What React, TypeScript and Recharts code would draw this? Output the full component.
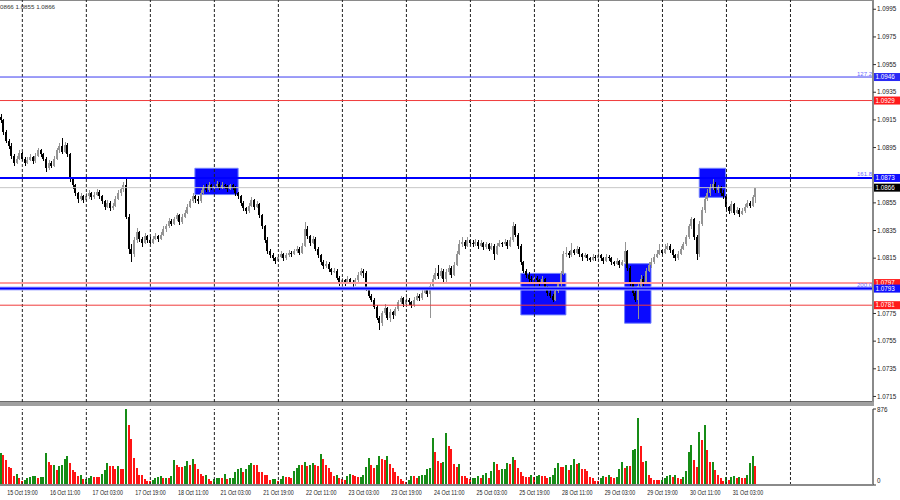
import React from 'react';
import { ComposedChart, Bar, XAxis, YAxis, ReferenceLine, ReferenceArea } from 'recharts';

// EURUSD H1, bar index 0 = 15 Oct 19:00. Prices in pips above 1.0000 (866 -> 1.0866)
const firstIndex = -3;

const opens = [
  917, 915, 906, 900, 896, 889, 884, 887, 891, 887, 884, 886,
  888, 885, 889, 893, 890, 887, 880, 884, 882, 887, 893, 896,
  892, 897, 890, 872, 868, 862, 858, 860, 857, 860, 862, 859,
  861, 863, 860, 856, 852, 855, 851, 853, 858, 862, 865, 868,
  845, 822, 818, 828, 834, 829, 826, 831, 828, 826, 829, 831,
  829, 832, 836, 838, 842, 840, 843, 846, 841, 845, 848, 852,
  856, 860, 858, 856, 862, 866, 864, 868, 866, 867, 869, 866,
  868, 867, 865, 868, 866, 862, 860, 855, 851, 849, 853, 857,
  852, 854, 846, 838, 828, 820, 817, 815, 813, 816, 818, 815,
  817, 819, 818, 820, 822, 819, 824, 836, 831, 826, 829, 822,
  817, 812, 809, 811, 807, 805, 806, 801, 797, 799, 797, 800,
  798, 796, 799, 803, 806, 804, 793, 788, 785, 780, 772, 768,
  775, 779, 772, 776, 774, 778, 783, 786, 782, 785, 783, 781,
  785, 788, 786, 790, 792, 789, 795, 800, 804, 802, 806, 800,
  805, 808, 803, 810, 818, 825, 827, 824, 828, 826, 825, 827,
  824, 826, 823, 825, 822, 824, 818, 824, 826, 825, 827, 824,
  828, 838, 832, 824, 812, 806, 803, 800, 799, 801, 799, 797,
  800, 794, 790, 788, 785, 791, 796, 804, 818, 819, 817, 821,
  819, 822, 818, 816, 817, 815, 814, 816, 815, 817, 815, 813,
  816, 815, 812, 811, 813, 810, 812, 820, 808, 797, 790, 785,
  795, 800, 797, 806, 810, 812, 816, 818, 821, 819, 822, 824,
  821, 817, 815, 818, 822, 825, 830, 838, 843, 830, 818, 840,
  850, 858, 862, 866, 869, 864, 866, 862, 860, 852, 849, 854,
  848, 850, 847, 849, 852, 855, 853, 859,
];

const highs = [
  919, 916, 908, 901, 898, 890, 889, 893, 892, 888, 888, 890,
  889, 891, 895, 894, 891, 888, 886, 885, 889, 895, 898, 902,
  899, 898, 891, 874, 869, 863, 862, 861, 862, 864, 863, 863,
  865, 864, 861, 857, 857, 856, 855, 860, 864, 866, 870, 874,
  847, 825, 830, 837, 835, 830, 833, 832, 830, 831, 833, 832,
  834, 838, 840, 844, 843, 845, 848, 847, 847, 850, 854, 858,
  862, 861, 860, 864, 868, 869, 870, 869, 869, 871, 870, 870,
  869, 868, 869, 869, 867, 863, 861, 856, 852, 855, 859, 858,
  856, 855, 847, 839, 830, 822, 819, 816, 818, 820, 819, 819,
  821, 820, 822, 824, 823, 826, 841, 838, 832, 831, 830, 823,
  818, 814, 813, 812, 808, 808, 807, 802, 801, 800, 802, 801,
  799, 801, 805, 808, 807, 806, 794, 789, 786, 781, 773, 777,
  782, 780, 778, 777, 780, 785, 788, 787, 787, 786, 784, 787,
  790, 789, 792, 794, 793, 797, 803, 808, 810, 808, 807, 807,
  810, 809, 812, 820, 828, 830, 828, 830, 829, 828, 829, 828,
  828, 827, 827, 826, 826, 825, 826, 828, 827, 829, 828, 830,
  841, 840, 833, 825, 813, 807, 805, 802, 803, 802, 800, 802,
  801, 795, 792, 789, 793, 798, 806, 820, 823, 820, 826, 822,
  824, 823, 819, 819, 818, 816, 818, 817, 820, 818, 816, 818,
  817, 816, 813, 815, 814, 814, 827, 821, 809, 798, 791, 797,
  803, 802, 808, 812, 815, 818, 821, 825, 822, 825, 826, 825,
  822, 818, 820, 824, 827, 832, 840, 845, 844, 832, 842, 852,
  860, 865, 869, 872, 870, 868, 867, 864, 861, 853, 856, 855,
  852, 851, 851, 854, 857, 856, 861, 866,
];

const lows = [
  913, 904, 898, 894, 887, 882, 883, 886, 885, 882, 883, 885,
  883, 884, 888, 888, 885, 877, 879, 880, 881, 886, 891, 890,
  891, 888, 870, 865, 860, 855, 856, 855, 856, 858, 857, 858,
  860, 858, 854, 850, 851, 849, 850, 852, 857, 860, 863, 843,
  818, 812, 816, 826, 827, 823, 825, 826, 825, 825, 828, 827,
  828, 831, 834, 837, 838, 839, 842, 839, 840, 844, 847, 851,
  855, 855, 854, 855, 861, 863, 863, 864, 865, 866, 864, 865,
  865, 863, 864, 864, 860, 858, 853, 849, 847, 848, 852, 850,
  851, 844, 836, 826, 818, 815, 813, 811, 812, 815, 813, 814,
  816, 816, 817, 819, 817, 818, 823, 829, 824, 825, 820, 815,
  810, 807, 808, 805, 803, 804, 799, 795, 796, 795, 796, 796,
  794, 795, 798, 802, 801, 791, 786, 783, 778, 770, 763, 766,
  774, 770, 769, 771, 773, 777, 782, 780, 781, 781, 779, 780,
  784, 784, 785, 789, 787, 772, 793, 799, 800, 801, 798, 798,
  803, 801, 802, 809, 817, 823, 822, 823, 824, 823, 824, 822,
  823, 821, 822, 820, 821, 814, 817, 823, 823, 824, 822, 823,
  827, 830, 822, 810, 804, 801, 798, 797, 798, 797, 795, 796,
  792, 788, 786, 783, 784, 790, 795, 803, 816, 815, 816, 817,
  818, 816, 813, 815, 813, 812, 813, 813, 814, 813, 811, 812,
  813, 810, 809, 810, 808, 809, 811, 806, 795, 788, 783, 771,
  793, 795, 796, 805, 808, 811, 815, 817, 817, 818, 821, 819,
  815, 813, 814, 817, 821, 824, 829, 836, 828, 814, 816, 838,
  848, 856, 860, 864, 862, 862, 860, 858, 850, 847, 848, 846,
  847, 845, 846, 848, 851, 851, 852, 855,
];

const closes = [
  915, 906, 900, 896, 889, 884, 887, 891, 887, 884, 886, 888,
  885, 889, 893, 890, 887, 880, 884, 882, 887, 893, 896, 892,
  897, 890, 872, 868, 862, 858, 860, 857, 860, 862, 859, 861,
  863, 860, 856, 852, 855, 851, 853, 858, 862, 865, 868, 845,
  822, 818, 828, 834, 829, 826, 831, 828, 826, 829, 831, 829,
  832, 836, 838, 842, 840, 843, 846, 841, 845, 848, 852, 856,
  860, 858, 856, 862, 866, 864, 868, 866, 867, 869, 866, 868,
  867, 865, 868, 866, 862, 860, 855, 851, 849, 853, 857, 852,
  854, 846, 838, 828, 820, 817, 815, 813, 816, 818, 815, 817,
  819, 818, 820, 822, 819, 824, 836, 831, 826, 829, 822, 817,
  812, 809, 811, 807, 805, 806, 801, 797, 799, 797, 800, 798,
  796, 799, 803, 806, 804, 793, 788, 785, 780, 772, 768, 775,
  779, 772, 776, 774, 778, 783, 786, 782, 785, 783, 781, 785,
  788, 786, 790, 792, 789, 795, 800, 804, 802, 806, 800, 805,
  808, 803, 810, 818, 825, 827, 824, 828, 826, 825, 827, 824,
  826, 823, 825, 822, 824, 818, 824, 826, 825, 827, 824, 828,
  838, 832, 824, 812, 806, 803, 800, 799, 801, 799, 797, 800,
  794, 790, 788, 785, 791, 796, 804, 818, 819, 817, 821, 819,
  822, 818, 816, 817, 815, 814, 816, 815, 817, 815, 813, 816,
  815, 812, 811, 813, 810, 812, 820, 808, 797, 790, 785, 795,
  800, 797, 806, 810, 812, 816, 818, 821, 819, 822, 824, 821,
  817, 815, 818, 822, 825, 830, 838, 843, 830, 818, 840, 850,
  858, 862, 866, 869, 864, 866, 862, 860, 852, 849, 854, 848,
  850, 847, 849, 852, 855, 853, 859, 866,
];

const volumes = [
  367, 347, 289, 212, 201, 104, 127, 77, 50, 62, 77, 96, 104, 106, 77, 89,
  95, 374, 270, 231, 235, 177, 220, 228, 305, 336, 251, 177, 146, 100, 120, 70,
  72, 85, 100, 92, 92, 90, 130, 175, 250, 215, 215, 180, 215, 180, 180,
  876, 694, 528, 312, 200, 120, 110, 70, 50,
  45, 60, 75, 95, 100, 80, 85, 80, 100,
  285, 230, 210, 210, 215, 280, 230, 295, 240, 180, 130, 100, 110, 70, 50,
  70, 75, 80, 80, 125, 65, 80, 82, 150, 180, 200, 150, 190, 230, 255, 230, 230, 150, 150, 110, 110, 60, 70, 72,
  50, 70, 100, 90, 90, 80, 160, 200, 230, 225, 262, 220, 230, 250, 230, 220, 355, 300, 230, 200, 150, 100, 110, 80,
  70, 60, 100, 130, 120, 100, 90, 92, 120, 210, 309, 230, 200, 230, 330, 300, 290, 330, 240, 200, 150, 100, 70, 45, 40,
  60, 105, 100, 80, 100, 110, 120, 190, 200, 540, 386, 274, 251, 260, 598, 451, 420, 240, 210, 240, 100, 100, 85, 70,
  75, 85, 100, 80, 110, 135, 80, 165, 262, 239, 177, 185, 190, 255, 243, 328, 289, 193, 154, 104, 96, 94, 116,
  95, 100, 115, 105, 98, 86, 96, 120, 193, 251, 205, 204, 231, 177, 231, 297, 243, 251, 185, 183, 164, 89, 78, 50,
  48, 77, 104, 95, 116, 89, 80, 88, 185, 262, 197, 224, 220, 405, 417, 772, 444, 270, 272, 116, 77, 58, 56, 55,
  60, 77, 104, 116, 89, 116, 80, 73, 96, 162, 378, 463, 289, 212, 610, 521, 694, 405, 262, 264, 177, 116, 77, 50, 89,
  58, 89, 108, 80, 96, 80, 79, 119, 251, 336, 220,
];

const timeTicks = [0, 16, 32, 48, 64, 80, 96, 112, 128, 144, 160, 176, 192, 208, 224, 240, 256, 272];
const timeLabels = [
  '15 Oct 19:00', '16 Oct 11:00', '17 Oct 03:00', '17 Oct 19:00', '18 Oct 11:00', '21 Oct 03:00',
  '21 Oct 19:00', '22 Oct 11:00', '23 Oct 03:00', '23 Oct 19:00', '24 Oct 11:00', '25 Oct 03:00',
  '25 Oct 19:00', '28 Oct 11:00', '29 Oct 03:00', '29 Oct 19:00', '30 Oct 11:00', '31 Oct 03:00',
];
const dayStarts = [5, 29, 53, 77, 101, 125, 149, 173, 197, 221, 245, 269, 293];

const priceTicks = [1.0715, 1.0735, 1.0755, 1.0775, 1.0815, 1.0835, 1.0855, 1.0895, 1.0915, 1.0935, 1.0955, 1.0975, 1.0995];
const volumeTicks = [0, 876];

const levelPrices = [1.0946, 1.0929, 1.0873, 1.0866, 1.0797, 1.0793, 1.0781];
const levelTags = ['127.2', '', '161.8', '', '', '200.0', ''];

// highlighted zones: [from bar, to bar, low, high]
const zones = [
  [69.7, 85.9, 1.0861, 1.0880],
  [191.9, 208.8, 1.0774, 1.0804],
  [230.8, 240.7, 1.0768, 1.0811],
  [258.8, 268.7, 1.0859, 1.0880],
];

const header = '0866 1.0855 1.0866';

// styles
const levelStyles = [
  { line: '#3b3bf0', width: 1, box: '#2a2af5' },
  { line: '#f03a3a', width: 1, box: '#ff1a1a' },
  { line: '#0000ff', width: 2, box: '#1010ff' },
  { line: '#c8c8c8', width: 1, box: '#000000' },
  { line: '#ff9c9c', width: 2, box: '#ff1a1a' },
  { line: '#0000ff', width: 2, box: '#1010ff' },
  { line: '#f03a3a', width: 1, box: '#ff1a1a' },
];
const BULL = '#949494';
const BEAR = '#000000';
const VOL_UP = '#168c16';
const VOL_DOWN = '#ff1414';
const FONT = '"Liberation Sans", Arial, sans-serif';
const FRAME = '#8a8a8a';
const PLOT_W = 873;
const X_DOMAIN: [number, number] = [-3.375, 323.94];

const px = (v: number) => 1 + v / 10000;

const rows = closes.map((c, k) => ({
  idx: firstIndex + k,
  open: px(opens[k]),
  high: px(highs[k]),
  low: px(lows[k]),
  close: px(c),
  vol: volumes[k],
  volUp: k === 0 || volumes[k] > volumes[k - 1],
}));

const Candle = (props: any) => {
  const { x, y, width, height, payload } = props;
  if (payload == null || x == null) return null;
  const top = Math.min(y, y + height);
  const h = Math.abs(height);
  const range = payload.high - payload.low || 1e-9;
  const py = (p: number) => top + ((payload.high - p) / range) * h;
  const bull = payload.close >= payload.open;
  const color = bull ? BULL : BEAR;
  const cx = Math.round(x + width / 2);
  const bodyTop = py(Math.max(payload.open, payload.close));
  const bodyBot = py(Math.min(payload.open, payload.close));
  return (
    <g shapeRendering="crispEdges">
      <rect x={cx} y={top} width={1} height={Math.max(h, 1)} fill={color} />
      <rect x={cx - 1} y={bodyTop} width={2} height={Math.max(bodyBot - bodyTop, 1)} fill={color} />
    </g>
  );
};

const VolumeBar = (props: any) => {
  const { x, y, width, height, payload } = props;
  if (payload == null || x == null) return null;
  const cx = Math.round(x + width / 2);
  return (
    <rect x={cx - 1} y={y} width={2} height={Math.max(height, 0)} fill={payload.volUp ? VOL_UP : VOL_DOWN} shapeRendering="crispEdges" />
  );
};

const PriceTick = ({ x, y, payload }: any) => (
  <text x={x} y={y + 2.2} fontSize={6.3} fontFamily={FONT} fill="#222">
    {payload.value.toFixed(4)}
  </text>
);

const VolumeTick = ({ x, y, payload }: any) => (
  <text x={x} y={payload.value === 0 ? y - 2 : y + 3} fontSize={6.3} fontFamily={FONT} fill="#222">
    {payload.value}
  </text>
);

const TimeTick = ({ x, y, payload }: any) => {
  const label = timeLabels[timeTicks.indexOf(payload.value)];
  return (
    <text x={x - 1.8} y={y + 9.5} fontSize={6.6} fontFamily={FONT} fill="#222" textLength={30.5} lengthAdjust="spacingAndGlyphs">
      {label}
    </text>
  );
};

const levelLabel = (k: number) => (props: any) => {
  const vb = props.viewBox;
  if (!vb) return null;
  const right = vb.x + vb.width;
  const y = vb.y;
  return (
    <g>
      {levelTags[k] ? (
        <text x={right - 1} y={y - 1.5} textAnchor="end" fontSize={6} fontFamily={FONT} fill="#6a6aff">
          {levelTags[k]}
        </text>
      ) : null}
      <rect x={right + 1} y={y - 4} width={26} height={8} fill={levelStyles[k].box} />
      <text x={right + 2.5} y={y + 2.3} fontSize={6.3} fontFamily={FONT} fill="#ffffff">
        {levelPrices[k].toFixed(4)}
      </text>
    </g>
  );
};

export default function App() {
  return (
    <div style={{ position: 'fixed', left: 0, top: 0, width: 900, height: 500, background: '#fff', overflow: 'hidden' }}>
      <div style={{ position: 'absolute', left: 0, top: 0, width: PLOT_W + 1, height: 1, background: FRAME }} />
      <div style={{ position: 'absolute', left: 0, top: 401, width: PLOT_W + 1, height: 4, background: '#a0a0a0', borderTop: '1px solid #6a6a6a' }} />
      <div style={{ position: 'absolute', left: 0, top: 0 }}>
        <ComposedChart width={900} height={402} data={rows} margin={{ top: 0, right: 0, bottom: 0, left: 0 }}>
          <XAxis dataKey="idx" type="number" domain={X_DOMAIN} allowDataOverflow hide />
          <YAxis
            orientation="right"
            width={900 - PLOT_W}
            domain={[1.0711, 1.10017]}
            allowDataOverflow
            ticks={priceTicks}
            interval={0}
            tick={<PriceTick />}
            tickSize={3}
            tickMargin={1}
            tickLine={{ stroke: '#333' }}
            axisLine={{ stroke: FRAME, strokeWidth: 2 }}
          />
          {dayStarts.map((d) => (
            <ReferenceLine key={'d' + d} x={d} stroke="#222" strokeDasharray="3 2" />
          ))}
          {zones.map((z, k) => (
            <ReferenceArea key={'z' + k} x1={z[0]} x2={z[1]} y1={z[2]} y2={z[3]} fill="#0a0aff" fillOpacity={1} stroke="#6f7fff" strokeWidth={1} />
          ))}
          <ReferenceLine y={levelPrices[5]} stroke="#b0b4ff" strokeWidth={4} />
          {levelPrices.map((p, k) => (
            <ReferenceLine
              key={'l' + k}
              y={p}
              stroke={levelStyles[k].line}
              strokeWidth={levelStyles[k].width}
              label={levelLabel(k)}
            />
          ))}
          <Bar dataKey={(d: any) => [d.low, d.high]} barSize={2} shape={<Candle />} isAnimationActive={false} />
        </ComposedChart>
      </div>
      <div style={{ position: 'absolute', left: 0, top: 406 }}>
        <ComposedChart width={900} height={94} data={rows} margin={{ top: 3, right: 0, bottom: 0, left: 0 }}>
          <XAxis
            dataKey="idx"
            type="number"
            domain={X_DOMAIN}
            allowDataOverflow
            ticks={timeTicks}
            interval={0}
            tick={<TimeTick />}
            tickLine={false}
            tickSize={0}
            tickMargin={0}
            height={15}
            axisLine={{ stroke: FRAME, strokeWidth: 2 }}
          />
          <YAxis
            orientation="right"
            width={900 - PLOT_W}
            domain={[0, 876]}
            allowDataOverflow
            ticks={volumeTicks}
            interval={0}
            tick={<VolumeTick />}
            tickSize={3}
            tickMargin={1}
            tickLine={{ stroke: '#333' }}
            axisLine={{ stroke: FRAME, strokeWidth: 2 }}
          />
          {dayStarts.map((d) => (
            <ReferenceLine key={'v' + d} x={d} stroke="#222" strokeDasharray="3 2" />
          ))}
          <Bar dataKey="vol" barSize={2} shape={<VolumeBar />} isAnimationActive={false} />
        </ComposedChart>
      </div>
      <div style={{ position: 'absolute', left: 0, top: 3, fontFamily: FONT, fontSize: 6.2, color: '#333', lineHeight: '8px' }}>
        {header}
      </div>
    </div>
  );
}
